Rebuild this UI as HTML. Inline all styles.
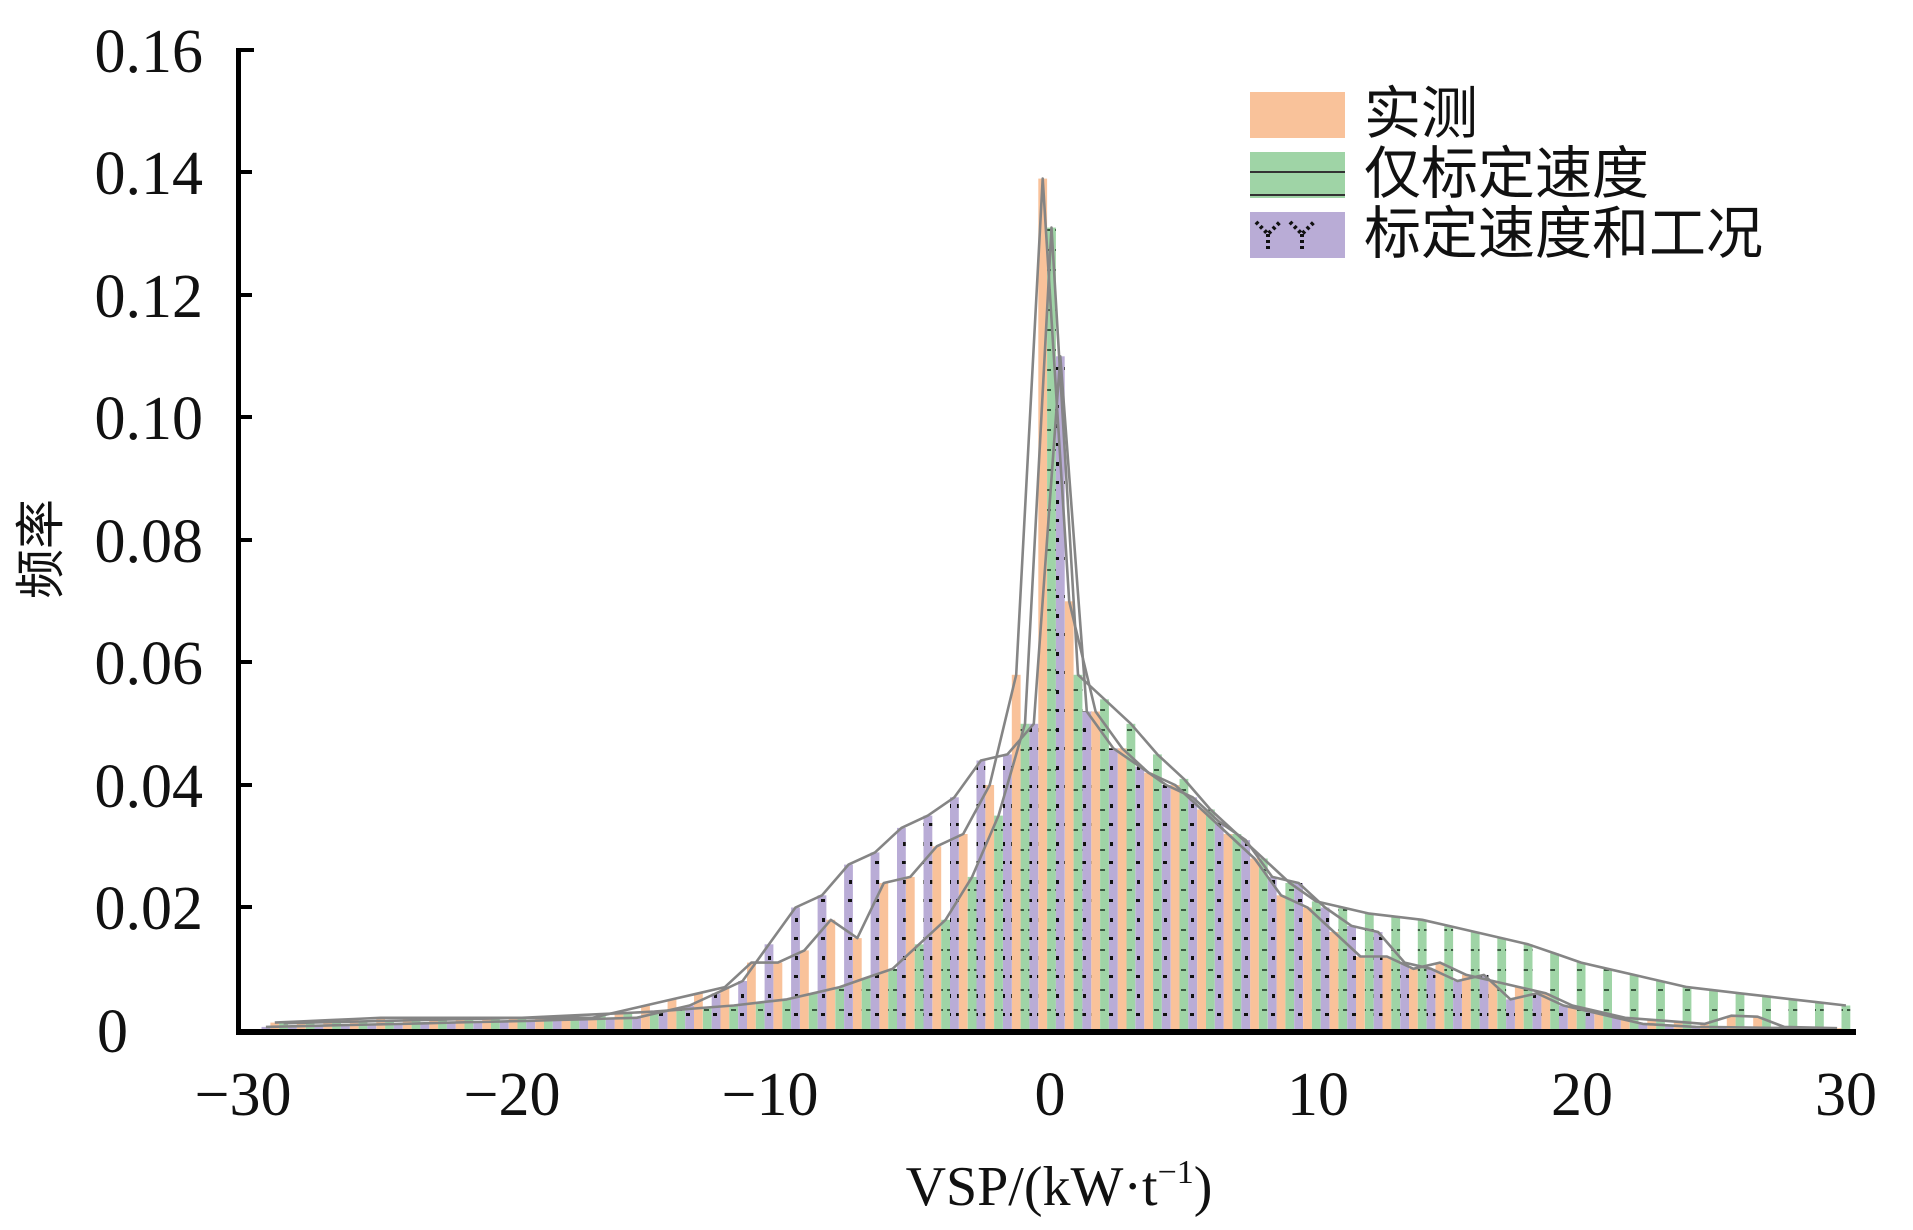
<!DOCTYPE html>
<html><head><meta charset="utf-8">
<style>
html,body{margin:0;padding:0;background:#fff;}
svg{display:block;}
.t{font-family:"Liberation Serif","Noto Serif CJK SC",serif;fill:#111;}
.c{font-family:"Liberation Sans","Noto Sans CJK SC",sans-serif;fill:#111;}
</style></head>
<body>
<svg id="s" width="1913" height="1230" viewBox="0 0 1913 1230" xmlns="http://www.w3.org/2000/svg">
<defs>
<pattern id="pg" width="9" height="20" patternUnits="userSpaceOnUse">
<rect width="9" height="20" fill="#9fd4a6"/><rect x="2" y="9" width="5" height="2" fill="#3a5a40"/>
</pattern>
<pattern id="pp" width="9" height="38" patternUnits="userSpaceOnUse">
<rect width="9" height="38" fill="#b9acd6"/><rect x="3" y="6" width="3" height="4" fill="#111"/><rect x="2" y="25" width="4" height="3" fill="#111"/>
</pattern>
<pattern id="lg" width="95" height="23" patternUnits="userSpaceOnUse">
<rect width="95" height="23" fill="#9fd4a6"/><rect y="10" width="95" height="2" fill="#333"/>
</pattern>
</defs>
<g id="bars"></g>
<g id="lines" fill="none" stroke="#858585" stroke-width="2.6" stroke-linejoin="round"></g>
<rect x="236" y="48" width="5" height="985" fill="#000"/>
<rect x="236" y="1029" width="1620" height="6" fill="#000"/>
<g fill="#000">
<rect x="236" y="48" width="18" height="4"/>
<rect x="236" y="170" width="16" height="4"/>
<rect x="236" y="293" width="16" height="4"/>
<rect x="236" y="415" width="16" height="4"/>
<rect x="236" y="538" width="16" height="4"/>
<rect x="236" y="660" width="16" height="4"/>
<rect x="236" y="783" width="16" height="4"/>
<rect x="236" y="905" width="16" height="4"/>
</g>
<g class="t" font-size="62" text-anchor="end">
<text x="203" y="72">0.16</text>
<text x="203" y="194">0.14</text>
<text x="203" y="317">0.12</text>
<text x="203" y="439">0.10</text>
<text x="203" y="562">0.08</text>
<text x="203" y="684">0.06</text>
<text x="203" y="807">0.04</text>
<text x="203" y="929">0.02</text>
<text x="128" y="1052">0</text>
</g>
<g class="t" font-size="62" text-anchor="middle">
<text x="243" y="1115">−30</text>
<text x="512" y="1115">−20</text>
<text x="770" y="1115">−10</text>
<text x="1050" y="1115">0</text>
<text x="1318" y="1115">10</text>
<text x="1582" y="1115">20</text>
<text x="1846" y="1115">30</text>
</g>
<text class="t" x="1059" y="1205" font-size="56" text-anchor="middle">VSP/(kW·t<tspan font-size="34" dy="-22">−1</tspan><tspan dy="22">)</tspan></text>
<text class="c" font-size="50" text-anchor="middle" transform="translate(58,549) rotate(-90)">频率</text>
<rect x="1250" y="92" width="95" height="46" fill="#f9c29a"/>
<rect x="1250" y="152" width="95" height="46" fill="url(#lg)"/>
<rect x="1250" y="212" width="95" height="46" fill="#b9acd6"/>
<path d="M1256 222 l12 12 l12 -12 M1268 234 l0 16 M1290 222 l12 12 l12 -12 M1302 234 l0 16" stroke="#111" stroke-width="4" stroke-dasharray="3 3" fill="none"/>
<g class="c" font-size="57">
<text x="1364" y="133">实测</text>
<text x="1364" y="193">仅标定速度</text>
<text x="1364" y="253">标定速度和工况</text>
</g>
</svg>
<script>
function interp(pts,v){for(var i=0;i<pts.length-1;i++){if(v>=pts[i][0]&&v<=pts[i+1][0]){var a=pts[i],b=pts[i+1];return a[1]+(b[1]-a[1])*(v-a[0])/(b[0]-a[0]);}}return 0;}
var O=[[-30,0.001],[-25,0.002],[-20,0.002],[-17,0.002],[-15,0.004],[-13,0.006],[-12,0.007],[-11,0.011],[-10,0.011],[-9,0.013],[-8,0.018],[-7,0.015],[-6,0.024],[-5,0.025],[-4,0.03],[-3,0.032],[-2,0.04],[-1,0.058],[-0.3,0.139],[1,0.07],[2,0.052],[3,0.046],[4,0.042],[5,0.04],[6,0.036],[7,0.032],[8,0.028],[9,0.022],[10,0.02],[11,0.016],[12,0.012],[13,0.012],[14,0.01],[15,0.011],[16,0.009],[17,0.008],[18,0.007],[19,0.006],[20,0.004],[22,0.002],[25,0.001],[26.5,0.003],[28,0.0005],[30,0.0003]];
var G=[[-30,0.001],[-20,0.002],[-15,0.003],[-12,0.004],[-10,0.005],[-8,0.007],[-6,0.01],[-4,0.018],[-3,0.025],[-2,0.035],[-1,0.05],[0,0.131],[1,0.058],[2,0.054],[3,0.05],[4,0.045],[5,0.041],[6,0.036],[7,0.032],[8,0.028],[9,0.024],[10,0.021],[11,0.02],[12,0.019],[14,0.018],[16,0.016],[18,0.014],[20,0.011],[22,0.009],[24,0.007],[26,0.006],[28,0.005],[30,0.004]];
var P=[[-30,0.0005],[-25,0.001],[-20,0.0015],[-16,0.002],[-14,0.004],[-12,0.008],[-11,0.014],[-10,0.02],[-9,0.022],[-8,0.027],[-7,0.029],[-6,0.033],[-5,0.035],[-4,0.038],[-3,0.044],[-2,0.045],[-1,0.05],[0.3,0.11],[1,0.052],[2,0.046],[3,0.043],[4,0.04],[5,0.038],[6,0.034],[7,0.031],[8,0.025],[9,0.024],[10,0.02],[11,0.017],[12,0.016],[13,0.011],[14,0.01],[15,0.008],[16,0.009],[17,0.005],[18,0.006],[19,0.004],[20,0.003],[22,0.001],[24,0.0005],[30,0.0002]];
var X=function(v){return 1051.5+26.48*v;},Y=function(f){return 1030-f*6125;};
var ns="http://www.w3.org/2000/svg",bars=document.getElementById('bars'),lines=document.getElementById('lines');
var series=[[O,"#f9c29a",-0.333],[G,"url(#pg)",0],[P,"url(#pp)",0.333]];
series.forEach(function(s){
 var pts=[];
 for(var v=-30;v<=30;v++){
  var vv=v+s[2]; if(vv<-29.7||vv>30.1)continue;
  var f=interp(s[0],(s[0]===O&&v===0)?-0.3:(s[0]===P&&v===0)?0.3:v);
  var cx=X(vv),y=Y(f);
  var r=document.createElementNS(ns,'rect');
  r.setAttribute('x',(cx-4.4).toFixed(1));r.setAttribute('y',y.toFixed(1));
  r.setAttribute('width','8.8');r.setAttribute('height',(1030-y).toFixed(1));
  r.setAttribute('fill',s[1]);bars.appendChild(r);
  pts.push(cx.toFixed(1)+","+y.toFixed(1));
 }
 var pl=document.createElementNS(ns,'polyline');pl.setAttribute('points',pts.join(' '));lines.appendChild(pl);
});
</script>
</body></html>
